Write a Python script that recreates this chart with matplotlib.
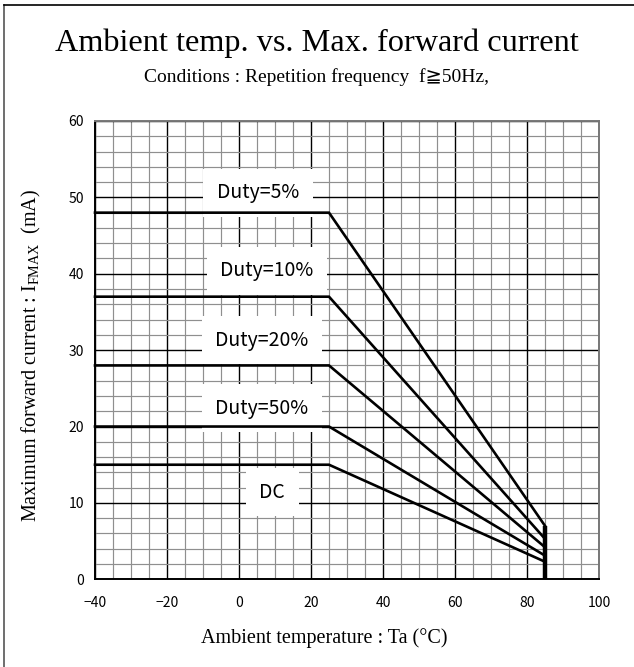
import matplotlib
matplotlib.use("Agg")
import matplotlib.pyplot as plt
from matplotlib.ticker import MultipleLocator
from matplotlib.lines import Line2D

# derating curves: flat up to the knee, then linear down to the max temperature
duty_labels = ["Duty=5%", "Duty=10%", "Duty=20%", "Duty=50%", "DC"]
flat_current = [48, 37, 28, 20, 15]
end_current = [7.0, 5.3, 4.2, 3.1, 2.3]
t_start = -40
t_knee = 25
t_end = 85

# label positions
label_x = [5.3, 7.8, 6.4, 6.4, 9.2]
label_y = [50.6, 40.4, 31.3, 22.4, 11.4]

x_ticks = [-40, -20, 0, 20, 40, 60, 80, 100]
y_ticks = [0, 10, 20, 30, 40, 50, 60]

serif = ["Liberation Serif", "DejaVu Serif", "DejaVu Sans"]
gothic = ["Noto Sans CJK JP", "DejaVu Sans"]

plt.rcParams["font.family"] = gothic
plt.rcParams["mathtext.fontset"] = "custom"
plt.rcParams["mathtext.rm"] = "Liberation Serif"
plt.rcParams["mathtext.it"] = "Liberation Serif:italic"

fig = plt.figure(figsize=(6.34, 6.67), dpi=100)
W, H = 634, 667

# frame round the picture (only top and left edges show)
fig.add_artist(Line2D([4 / W, 4 / W], [0, 1 - 5 / H], color="#555555", lw=1.2))
fig.add_artist(Line2D([4 / W, 1], [1 - 5 / H, 1 - 5 / H], color="black", lw=1.2))

ax = fig.add_axes([95 / W, 87.7 / H, 504 / W, 458.3 / H])
ax.set_xlim(-40, 100)
ax.set_ylim(0, 60)
ax.set_xticks(x_ticks)
ax.set_yticks(y_ticks)
ax.xaxis.set_minor_locator(MultipleLocator(5))
ax.yaxis.set_minor_locator(MultipleLocator(2))
ax.grid(which="minor", color="#8f8f8f", lw=0.85, zorder=0)
ax.grid(which="major", color="black", lw=1.0, zorder=1)
ax.set_axisbelow(True)
ax.tick_params(which="both", length=0, labelsize=10)
ax.tick_params(axis="x", pad=12)
ax.tick_params(axis="y", pad=8)
for sp in ax.spines.values():
    sp.set_linewidth(1.4)
ax.spines["right"].set_color("#777777")
ax.spines["top"].set_color("#777777")

for i in range(len(duty_labels)):
    ax.plot([t_start, t_knee, t_end], [flat_current[i], flat_current[i], end_current[i]],
            color="black", lw=1.9, zorder=4, solid_joinstyle="miter", clip_on=False)
    ax.text(label_x[i], label_y[i], duty_labels[i], family=gothic, fontsize=14,
            ha="center", va="center", zorder=3,
            bbox=dict(boxstyle="square,pad=0.7", fc="white", ec="none"))

ax.plot([t_end, t_end], [0, max(end_current)], color="black", lw=3.2, zorder=4,
        solid_capstyle="butt")

fig.text(0.5, 1 - 43 / H, "Ambient temp. vs. Max. forward current", family=serif,
         fontsize=23.2, ha="center", va="center")
fig.text(0.5, 1 - 77 / H, "Conditions : Repetition frequency  f\u226750Hz,", family=serif,
         fontsize=14, ha="center", va="center")
fig.text(324 / W, 1 - 638 / H, "Ambient temperature : Ta (\u00b0C)", family=serif,
         fontsize=14.5, ha="center", va="center")
fig.text(31 / W, 1 - 355 / H, "Maximum forward current : $\\mathrm{I_{FMAX}}$  (mA)",
         family=serif, fontsize=14.5, ha="center", va="center", rotation=90)

fig.savefig("out.png", dpi=100)
